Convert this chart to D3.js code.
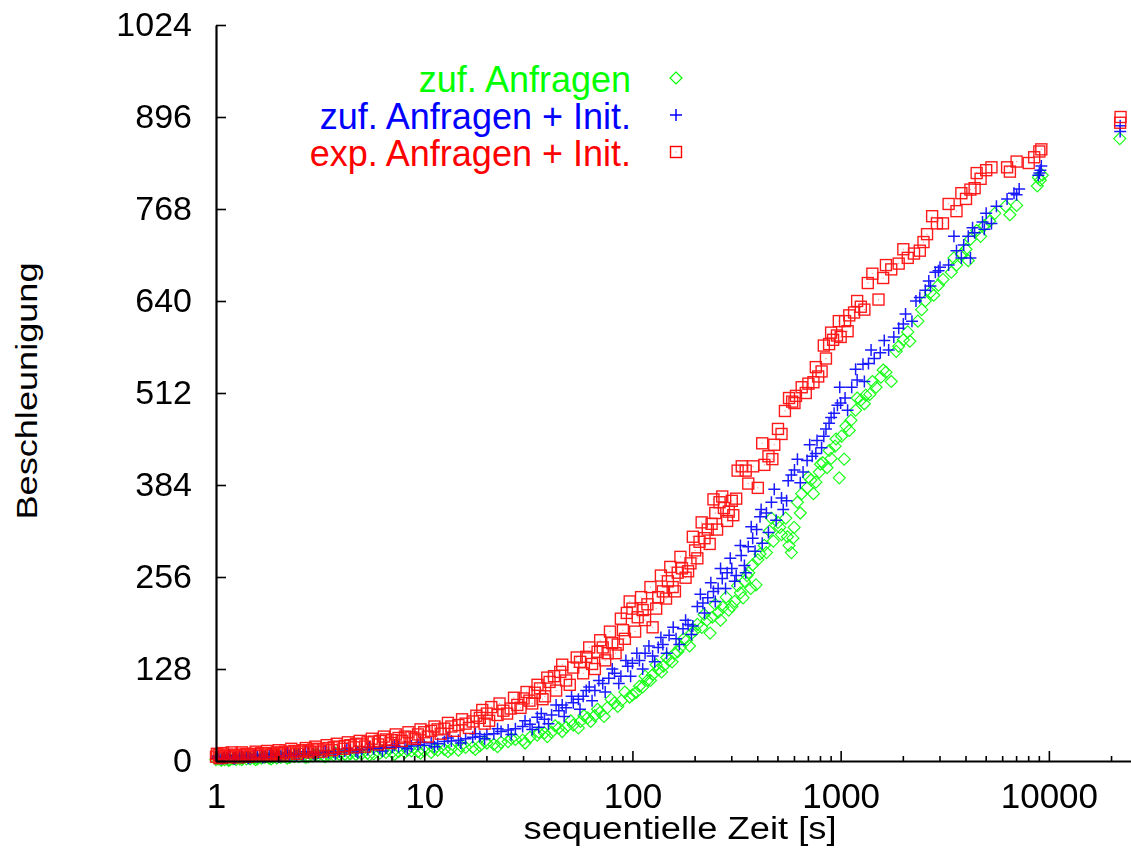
<!DOCTYPE html>
<html>
<head>
<meta charset="utf-8">
<script src="https://cdn.jsdelivr.net/npm/d3@7"></script>
<style>
  body { margin: 0; background: #fff; }
  text { font-family: "Liberation Sans", Arial, Helvetica, sans-serif; }
</style>
</head>
<body>
<svg id="chart" width="1131" height="855"></svg>
<script>
// Speedup (Beschleunigung) over sequential run time, three measurement series.
const xTickValues = [1, 10, 100, 1000, 10000];
const yTickValues = [0, 128, 256, 384, 512, 640, 768, 896, 1024];
const seriesLabels = ["zuf. Anfragen", "zuf. Anfragen + Init.", "exp. Anfragen + Init."];
const seriesColors = ["#00ff00", "#0000ff", "#ff0000"];
const xTitle = "sequentielle Zeit [s]";
const yTitle = "Beschleunigung";

// [sequential time in s, speedup]
const zufAnfragen = [
  [1.00,2],[1.03,3],[1.06,1],[1.10,2],[1.13,3],[1.17,2],[1.21,3],[1.25,2],[1.30,3],[1.35,4],[1.40,3],[1.46,3],
  [1.52,4],[1.58,3],[1.65,4],[1.72,5],[1.80,4],[1.88,5],[1.96,4],[2.05,5],[2.15,6],[2.26,5],[2.38,6],[2.50,6],
  [2.63,7],[2.78,6],[2.93,7],[3.10,8],[3.28,7],[3.47,8],[3.68,8],[3.91,9],[4.15,9],[4.42,10],[4.70,9],[5.01,10],
  [5.35,11],[5.72,10],[6.12,11],[6.55,12],[7.02,12],[7.53,13],[8.08,12],[8.68,14],[9.33,13],[10.0,14],[10.8,12],
  [11.6,15],[12.5,16],[13.5,17],[14.6,15],[15.8,19],[17.1,19],[18.5,21],[20.0,25],[21.6,23],[23.4,26],[25.3,27],
  [27.4,30],[29.7,29],[32.2,33],[34.9,36],[37.8,39],[40.9,40],[44.3,46],[48.0,47],[52.0,50],[56.3,55],[60.9,60],
  [65.9,63],[70.0,68],[75.6,74],[82.0,81],[88.6,84],[96.9,89],[104,95],[112,103],[118,112],[125,120],[133,127],
  [141,132],[150,140],[160,150],[170,158],[182,168],[193,178],[205,190],[215,186],[228,196],[242,200],[258,207],
  [272,214],[290,210],[310,222],[330,234],[345,250],[362,262],[378,273],[392,245],[410,288],[430,300],[455,320],
  [475,306],[500,332],[520,315],[545,338],[565,300],[580,290],[598,325],[620,360],[650,372],[690,380],[720,391],
  [760,388],[790,402],[820,415],[860,408],[900,421],[940,438],[985,394],[1010,452],[1060,466],[1120,474],[1180,488],
  [1250,502],[1320,509],[1380,510],[1480,520],[1560,534],[1650,541],[1750,528],[1900,577],[2000,586],[2150,584],
  [2350,612],[2550,640],[2700,652],[2950,662],[3400,680],[3600,690],[3800,705],[4000,712],[4200,726],[4500,738],
  [4900,745],[5200,751],[6500,760],[7000,773],[8800,800],[9100,808],[9300,815],[21900,866],
  // second measurement pass
  [1.02,4],[1.08,3],[1.15,1],[1.23,4],[1.33,2],[1.43,5],[1.55,2],[1.68,6],[1.84,3],[2.00,7],[2.20,4],[2.44,8],
  [2.70,5],[3.00,9],[3.35,6],[3.75,11],[4.25,7],[4.80,12],[5.45,8],[6.30,14],[7.20,9],[8.30,15],[9.60,11],
  [11.2,17],[13.0,13],[15.0,21],[17.6,16],[19.5,27],[22.5,20],[26.2,31],[30.5,25],[35.5,40],[39.0,34],[42.5,49],
  [46.0,41],[50.5,56],[55.0,46],[58.5,63],[63.0,55],[68.0,72],[73.0,62],[79.0,86],[85.0,76],[92.0,96],[100,92],
  [108,104],[115,118],[122,112],[130,134],[138,124],[146,144],[155,138],[165,152],[176,170],[188,160],[200,182],
  [221,204],[236,178],[250,218],[265,196],[282,228],[300,215],[320,244],[340,227],[355,258],[370,240],[400,280],
  [440,290],[465,338],[510,325],[555,312],[590,310],[640,345],[700,395],[740,372],[800,413],[880,432],[950,448],
  [1040,420],[1100,460],[1200,505],[1300,497],[1420,528],[1600,544],[1850,570],[2100,597],[2450,628],[2800,648],
  [3100,670],[3500,700],[4100,696],[4700,730],[5500,762],[6200,772],[8900,812]
];

const zufAnfragenInit = [
  [1.00,4],[1.03,5],[1.06,3],[1.10,5],[1.13,4],[1.17,6],[1.21,4],[1.25,5],[1.30,6],[1.35,5],[1.40,6],[1.46,5],
  [1.52,7],[1.58,6],[1.65,7],[1.72,6],[1.80,8],[1.88,7],[1.96,8],[2.05,7],[2.15,9],[2.26,8],[2.38,9],[2.50,10],
  [2.63,9],[2.78,11],[2.93,10],[3.10,11],[3.28,12],[3.47,12],[3.68,13],[3.91,13],[4.15,14],[4.42,15],[4.70,14],
  [5.01,16],[5.35,16],[5.72,17],[6.12,18],[6.55,18],[7.02,19],[7.53,20],[8.08,20],[8.68,21],[9.33,23],[10.0,22],
  [10.8,25],[11.6,24],[12.5,27],[13.5,28],[14.6,29],[15.8,31],[17.1,33],[18.5,34],[20.0,37],[21.6,38],[23.4,41],
  [25.3,43],[27.4,45],[29.7,48],[32.2,51],[34.9,61],[35.5,47],[37.8,58],[40.9,64],[44.3,70],[46.0,78],[48.0,74],
  [52.0,81],[55.0,86],[58.0,90],[62.0,103],[66.0,98],[72.0,108],[77.0,115],[82.0,122],[88.0,118],[95.0,132],
  [100,136],[108,140],[115,150],[125,146],[133,158],[140,162],[150,175],[162,170],[175,184],[185,190],[195,188],
  [205,215],[218,220],[230,227],[245,236],[258,240],[270,254],[285,262],[300,268],[315,258],[333,286],[345,272],
  [360,298],[378,310],[395,322],[410,340],[420,303],[440,345],[465,360],[490,335],[520,366],[550,362],[580,398],
  [600,405],[640,387],[690,418],[730,424],[770,446],[810,436],[850,462],[900,478],[930,484],[965,495],[1000,498],
  [1050,505],[1130,520],[1200,530],[1300,528],[1360,553],[1450,560],[1550,568],[1700,572],[1900,602],[2050,622],
  [2200,612],[2400,645],[2550,655],[2700,661],[2850,680],[3000,687],[3300,690],[3600,710],[3900,718],[4100,730],
  [4200,700],[4400,735],[4800,750],[5000,762],[5300,748],[6300,782],[6800,790],[7200,796],[8900,815],[9100,822],
  [9200,828],[22000,876],[22000,884],
  // second measurement pass
  [1.02,7],[1.08,4],[1.15,8],[1.23,3],[1.33,8],[1.43,4],[1.55,9],[1.68,5],[1.84,10],[2.00,6],[2.20,11],[2.44,7],
  [2.70,13],[3.00,8],[3.35,14],[3.75,10],[4.25,17],[4.80,12],[5.45,19],[6.30,14],[7.20,22],[8.30,17],[9.60,26],
  [11.2,20],[13.0,32],[15.0,25],[17.6,38],[19.5,31],[22.5,45],[26.2,37],[30.5,56],[33.0,44],[36.5,66],[39.5,52],
  [43.0,78],[47.0,62],[51.0,90],[56.0,72],[60.0,98],[64.0,84],[69.0,112],[74.0,96],[80.0,128],[86.0,108],
  [93.0,140],[98.0,118],[105,150],[112,128],[120,160],[128,138],[137,172],[146,150],[157,186],[168,162],[180,196],
  [192,176],[212,232],[222,206],[238,248],[250,222],[265,268],[280,240],[295,282],[310,250],[330,300],[350,262],
  [372,326],[388,292],[415,350],[450,318],[480,378],[530,350],[560,390],[620,420],[660,402],[710,440],[760,428],
  [830,452],[880,470],[990,520],[1080,488],[1180,545],[1280,552],[1400,572],[1620,585],[1800,590],[2000,608],
  [2300,640],[2650,668],[2950,682],[3500,730],[3800,700],[4300,742],[4900,740],[5600,772],[7000,788],[9000,818]
];

const expAnfragenInit = [
  [1.00,6],[1.03,8],[1.06,5],[1.10,7],[1.13,9],[1.17,6],[1.21,8],[1.25,7],[1.30,9],[1.35,8],[1.40,10],[1.46,8],
  [1.52,10],[1.58,9],[1.65,11],[1.72,9],[1.80,11],[1.88,10],[1.96,12],[2.05,11],[2.15,13],[2.26,12],[2.38,14],
  [2.50,13],[2.63,15],[2.78,14],[2.93,16],[3.10,17],[3.28,16],[3.47,18],[3.68,19],[3.91,20],[4.15,21],[4.42,22],
  [4.70,24],[5.01,23],[5.35,26],[5.72,27],[6.12,28],[6.55,30],[7.02,29],[7.53,32],[8.08,34],[8.68,33],[9.33,37],
  [10.0,40],[10.8,42],[11.6,44],[12.5,45],[13.5,48],[14.6,50],[15.8,52],[17.1,55],[18.5,60],[19.5,52],[20.0,66],
  [21.0,75],[22.5,64],[24.0,70],[26.0,73],[28.0,78],[30.0,87],[32.0,84],[34.0,95],[36.0,101],[38.0,90],[40.0,110],
  [42.0,118],[45.0,124],[48.0,112],[52.0,130],[56.0,138],[60.0,145],[64.0,135],[68.0,152],[72.0,158],[76.0,150],
  [80.0,164],[85.0,162],[90.0,182],[94.0,206],[100,212],[106,200],[112,210],[118,218],[125,186],[133,228],[140,236],
  [148,250],[156,242],[165,262],[173,268],[180,255],[190,275],[200,293],[210,305],[222,310],[230,322],[240,330],
  [250,345],[262,360],[275,352],[290,347],[300,362],[315,365],[335,410],[350,404],[380,410],[400,380],[430,412],
  [450,424],[480,440],[500,462],[540,487],[565,505],[585,500],[610,508],[650,520],[700,525],[740,527],[780,535],
  [810,542],[850,560],[880,580],[920,586],[960,592],[1000,590],[1050,612],[1100,620],[1160,624],[1250,632],
  [1350,665],[1420,678],[1520,642],[1650,690],[1750,684],[1900,692],[2000,712],[2250,706],[2400,710],[2600,733],
  [2750,758],[2900,748],[3300,775],[3600,765],[4000,782],[4200,795],[4400,797],[4700,810],[5000,822],[5300,826],
  [6500,820],[7000,834],[8000,832],[9000,848],[9200,851],[22000,888],[22100,896],
  // second measurement pass
  [1.01,10],[1.04,4],[1.08,11],[1.15,5],[1.19,12],[1.28,5],[1.33,12],[1.43,6],[1.55,13],[1.62,7],[1.76,14],
  [1.84,8],[2.00,15],[2.10,9],[2.30,17],[2.45,10],[2.70,18],[2.85,12],[3.00,20],[3.20,13],[3.40,22],[3.60,15],
  [3.80,24],[4.10,17],[4.30,26],[4.60,19],[4.90,28],[5.20,20],[5.60,31],[6.00,23],[6.40,34],[6.90,25],[7.30,37],
  [7.80,28],[8.40,40],[9.00,31],[9.60,44],[10.4,34],[11.2,48],[12.0,38],[13.0,53],[14.0,42],[15.2,58],[16.4,46],
  [17.8,63],[19.0,71],[20.5,56],[23.0,80],[25.0,66],[27.0,88],[29.0,74],[31.0,96],[33.0,80],[35.0,106],[37.0,86],
  [39.0,116],[43.0,98],[46.0,134],[50.0,106],[54.0,144],[58.0,122],[62.0,158],[66.0,128],[70.0,168],[74.0,140],
  [78.0,180],[83.0,150],[88.0,198],[92.0,170],[97.0,222],[103,180],[110,228],[115,196],[122,242],[130,212],
  [137,258],[145,226],[152,270],[160,236],[170,284],[185,264],[195,312],[205,282],[215,332],[235,302],[245,364],
  [255,322],[270,368],[285,334],[305,342],[320,404],[360,386],[420,442],[470,420],[520,455],[600,498],[680,512],
  [760,548],[830,578],[900,596],[980,612],[1080,598],[1200,640],[1300,628],[1600,672],[2100,700],[2500,722],
  [3100,748],[3800,790],[4500,818],[6300,826],[8500,840]
];

const seriesData = [zufAnfragen, zufAnfragenInit, expAnfragenInit];

const svg = d3.select("#chart");
svg.append("rect").attr("width", 1131).attr("height", 855).attr("fill", "#fff");

const x = d3.scaleLog().domain([1, 24800]).range([216, 1131]);
const y = d3.scaleLinear().domain([0, 1024]).range([761, 25]);

// Point symbols: diamond, plus, square with a centre dot
const symbolDraw = [
  (g, color) => g.append("path").attr("d", "M0,-6L6,0L0,6L-6,0Z")
      .attr("fill", "none").attr("stroke", color).attr("stroke-width", 1.2),
  (g, color) => g.append("path").attr("d", "M-6,0H6M0,-6V6")
      .attr("fill", "none").attr("stroke", color).attr("stroke-width", 1.5),
  (g, color) => {
    g.append("rect").attr("x", -5.5).attr("y", -5.5).attr("width", 11).attr("height", 11)
      .attr("fill", "none").attr("stroke", color).attr("stroke-width", 1.4);
    g.append("rect").attr("x", -0.5).attr("y", -0.5).attr("width", 1).attr("height", 1)
      .attr("fill", color).attr("opacity", 0.6);
  }
];

seriesData.forEach((data, i) => {
  const layer = svg.append("g").attr("class", "series-" + i).attr("opacity", 0.9);
  layer.selectAll("g.pt").data(data).join("g")
    .attr("class", "pt")
    .attr("transform", d => `translate(${x(d[0])},${y(d[1])})`)
    .each(function () { symbolDraw[i](d3.select(this), seriesColors[i]); });
});

// Y axis (ticks pointing inward)
const yAxis = svg.append("g").attr("transform", `translate(${x(1)},0)`)
  .call(d3.axisLeft(y).tickValues(yTickValues).tickFormat(d3.format("d"))
    .tickSizeInner(-10).tickSizeOuter(0).tickPadding(24));
yAxis.attr("font-family", null);
yAxis.select(".domain").attr("stroke-width", 2.2);
yAxis.selectAll(".tick line").attr("stroke-width", 1.6);
yAxis.selectAll("text").attr("font-size", 34).attr("fill", "#000");

// X axis, logarithmic, with minor ticks
const xAxis = svg.append("g").attr("transform", `translate(0,${y(0)})`)
  .call(d3.axisBottom(x).tickValues(xTickValues).tickFormat(d3.format("d"))
    .tickSizeInner(-10).tickSizeOuter(0).tickPadding(22));
xAxis.attr("font-family", null);
xAxis.select(".domain").attr("stroke-width", 2.2);
xAxis.selectAll(".tick line").attr("stroke-width", 1.6);
xAxis.selectAll("text").attr("font-size", 35).attr("fill", "#000");

const minorTicks = [];
xTickValues.forEach(base => {
  for (let k = 2; k <= 9; k++) if (base * k <= 24800) minorTicks.push(base * k);
});
svg.append("g").selectAll("line").data(minorTicks).join("line")
  .attr("x1", d => x(d)).attr("x2", d => x(d))
  .attr("y1", y(0)).attr("y2", y(0) - 5)
  .attr("stroke", "#000").attr("stroke-width", 1.6);

// Axis titles
svg.append("text")
  .attr("x", 680).attr("y", 839)
  .attr("text-anchor", "middle").attr("font-size", 31)
  .attr("textLength", 313).attr("lengthAdjust", "spacingAndGlyphs")
  .text(xTitle);

svg.append("text")
  .attr("transform", "translate(37,391) rotate(-90)")
  .attr("text-anchor", "middle").attr("font-size", 30)
  .attr("textLength", 257).attr("lengthAdjust", "spacingAndGlyphs")
  .text(yTitle);

// Key
seriesLabels.forEach((label, i) => {
  const base = 92 + i * 37;
  svg.append("text")
    .attr("x", 631).attr("y", base)
    .attr("text-anchor", "end").attr("font-size", 36)
    .attr("fill", seriesColors[i])
    .text(label);
  const g = svg.append("g").attr("transform", `translate(676,${base - 14})`);
  symbolDraw[i](g, seriesColors[i]);
});
</script>
</body>
</html>
